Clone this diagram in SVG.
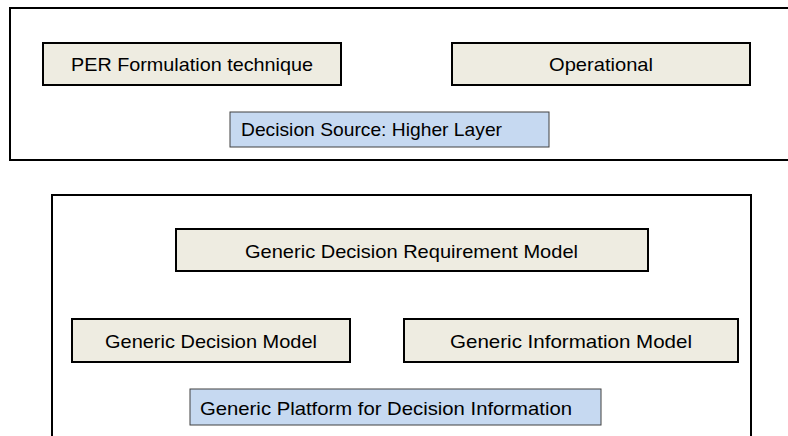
<svg xmlns="http://www.w3.org/2000/svg" width="788" height="436" viewBox="0 0 788 436">
<style>
.outer{fill:#ffffff;stroke:#000;stroke-width:2}
.beige{fill:#eeece1;stroke:#000;stroke-width:2}
.blue{fill:#c6d9f1;stroke:#404040;stroke-width:1}
text{font-family:"Liberation Sans",Arial,sans-serif;font-size:18.5px;fill:#000}
.c{text-anchor:middle}
</style>
<rect width="788" height="436" fill="#fff"/>
<g id="layer-top">
<rect class="outer" x="10" y="8" width="800" height="152"/>
</g>
<g id="layer-bottom">
<rect class="outer" x="52" y="195" width="699" height="300"/>
</g>
<g id="connectors"></g>
<g id="per">
<rect class="beige" x="43" y="43" width="298" height="42"/>
<text class="c" x="192" y="71" textLength="242" lengthAdjust="spacingAndGlyphs">PER Formulation technique</text>
</g>
<g id="operational">
<rect class="beige" x="452" y="43" width="298" height="42"/>
<text class="c" x="601" y="71" textLength="104" lengthAdjust="spacingAndGlyphs">Operational</text>
</g>
<g id="decision-source">
<rect class="blue" x="230" y="112" width="319" height="35"/>
<text x="241" y="136" textLength="261" lengthAdjust="spacingAndGlyphs">Decision Source: Higher Layer</text>
</g>
<g id="gdrm">
<rect class="beige" x="176" y="229" width="472" height="42"/>
<text class="c" x="411.5" y="258" textLength="333" lengthAdjust="spacingAndGlyphs">Generic Decision Requirement Model</text>
</g>
<g id="gdm">
<rect class="beige" x="72" y="319" width="278" height="43"/>
<text class="c" x="211" y="348" textLength="212" lengthAdjust="spacingAndGlyphs">Generic Decision Model</text>
</g>
<g id="gim">
<rect class="beige" x="404" y="319" width="334" height="43"/>
<text class="c" x="571" y="348" textLength="242" lengthAdjust="spacingAndGlyphs">Generic Information Model</text>
</g>
<g id="gpdi">
<rect class="blue" x="190" y="389" width="411" height="36"/>
<text x="200" y="415" textLength="372" lengthAdjust="spacingAndGlyphs">Generic Platform for Decision Information</text>
</g>
</svg>
